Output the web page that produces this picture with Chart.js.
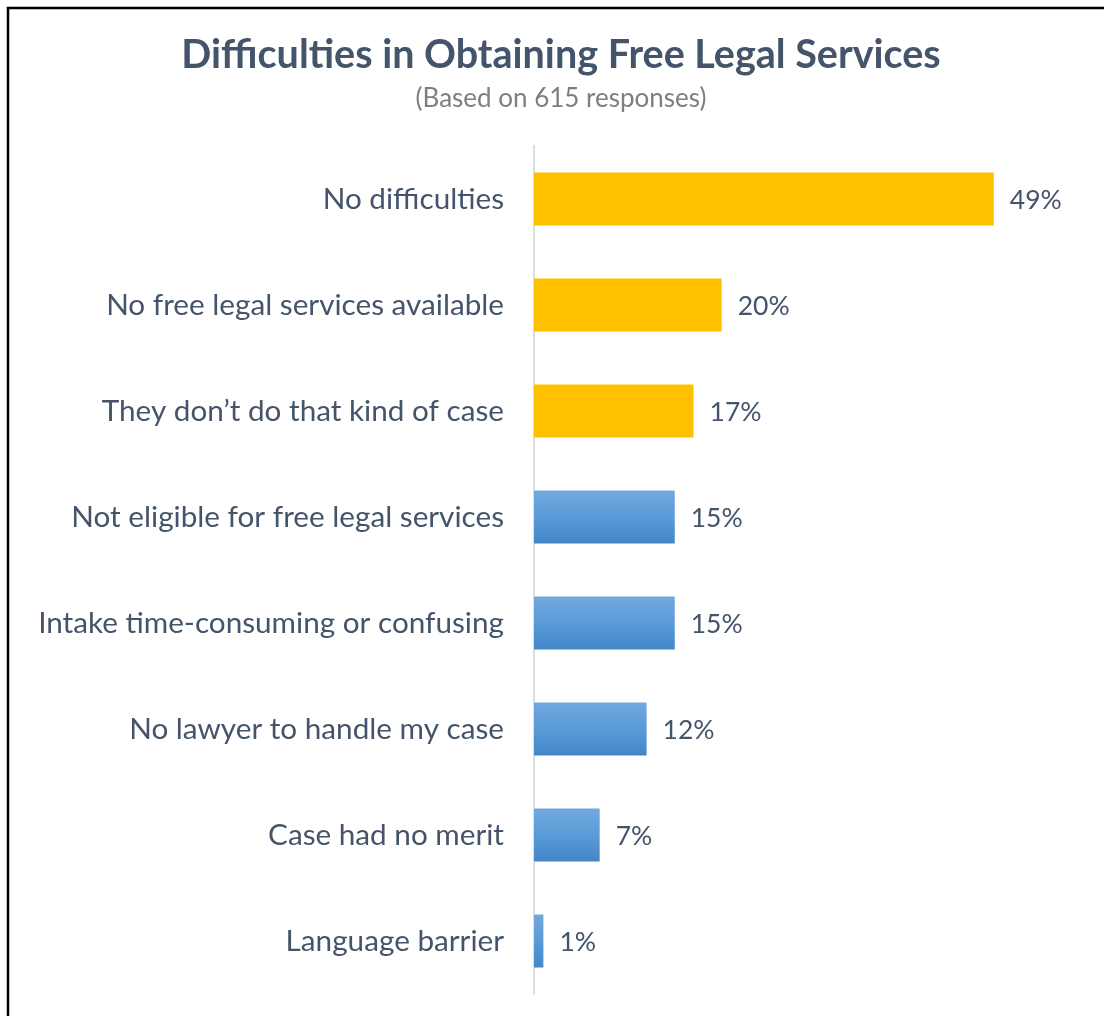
<!DOCTYPE html>
<html>
<head>
<meta charset="utf-8">
<title>Difficulties in Obtaining Free Legal Services</title>
<script src="https://cdn.jsdelivr.net/npm/chart.js@4/dist/chart.umd.min.js"></script>
<style>
  html, body { margin: 0; padding: 0; background: #ffffff; }
  #wrap { position: relative; width: 1104px; height: 1016px; }
  canvas { display: block; }
</style>
</head>
<body>
<div id="wrap"><canvas id="chart" width="1104" height="1016"></canvas></div>
<script>
// Survey answers and their share of responses (%)
const categories = [
  'No difficulties',
  'No free legal services available',
  'They don\u2019t do that kind of case',
  'Not eligible for free legal services',
  'Intake time-consuming or confusing',
  'No lawyer to handle my case',
  'Case had no merit',
  'Language barrier'
];
const percentages = [49, 20, 17, 15, 15, 12, 7, 1];
// The first three answers are highlighted in gold, the rest in blue
const highlighted = [true, true, true, false, false, false, false, false];

const titleText = 'Difficulties in Obtaining Free Legal Services';
const subtitleText = '(Based on 615 responses)';

const FONT = 'Lato, Carlito, Calibri, "Open Sans", sans-serif';
const TEXT_COLOR = '#44546a';

// Vertical blue gradient for each non-highlighted bar
function barColor(ctx) {
  if (highlighted[ctx.dataIndex]) return '#ffc000';
  const chart = ctx.chart;
  const yScale = chart.scales && chart.scales.y;
  if (!chart.chartArea || !yScale) return '#5b9bd5';
  const center = yScale.getPixelForValue(ctx.dataIndex);
  const step = Math.abs(yScale.getPixelForValue(1) - yScale.getPixelForValue(0));
  const h = step * 0.25;
  const g = chart.ctx.createLinearGradient(0, center - h, 0, center + h);
  g.addColorStop(0, '#72a8de');
  g.addColorStop(0.5, '#5a9bd9');
  g.addColorStop(1, '#4386c6');
  return g;
}

// Frame lines, title and subtitle
const framePlugin = {
  id: 'frame',
  beforeDraw(chart) {
    const c = chart.ctx;
    c.save();
    c.strokeStyle = '#000000';
    c.lineWidth = 2.5;
    c.beginPath();
    c.moveTo(8, chart.height + 2);
    c.lineTo(8, 8);
    c.lineTo(chart.width + 2, 8);
    c.stroke();
    c.restore();
  },
  afterDraw(chart) {
    const c = chart.ctx;
    c.save();
    c.textAlign = 'center';
    c.textBaseline = 'alphabetic';
    c.fillStyle = TEXT_COLOR;
    c.font = 'bold 39.5px ' + FONT;
    c.fillText(titleText, 561, 68);
    c.fillStyle = '#7f7f7f';
    c.font = '26px ' + FONT;
    c.fillText(subtitleText, 561, 107);
    c.restore();
  }
};

// Percentage label to the right of each bar
const valueLabels = {
  id: 'valueLabels',
  afterDatasetsDraw(chart) {
    const c = chart.ctx;
    const meta = chart.getDatasetMeta(0);
    c.save();
    c.fillStyle = TEXT_COLOR;
    c.font = '26.5px ' + FONT;
    c.textAlign = 'left';
    c.textBaseline = 'middle';
    meta.data.forEach((bar, i) => {
      c.fillText(percentages[i] + '%', bar.x + 16, bar.y + 1);
    });
    c.restore();
  }
};

new Chart(document.getElementById('chart'), {
  type: 'bar',
  data: {
    labels: categories,
    datasets: [{
      data: percentages,
      backgroundColor: barColor,
      borderWidth: 0,
      categoryPercentage: 1,
      barPercentage: 0.5
    }]
  },
  options: {
    indexAxis: 'y',
    responsive: false,
    animation: false,
    layout: { padding: { top: 146, bottom: 22, left: 0, right: 7 } },
    plugins: {
      legend: { display: false },
      tooltip: { enabled: false },
      title: { display: false }
    },
    scales: {
      x: {
        display: false,
        min: 0,
        max: 60
      },
      y: {
        afterFit(scale) {
          scale.width = 534;
          scale.paddingTop = 0;
          scale.paddingBottom = 0;
        },
        grid: { display: false, drawTicks: false },
        border: { display: true, color: '#d9dde4', width: 2 },
        ticks: {
          padding: 30,
          color: TEXT_COLOR,
          font: { family: FONT, size: 29.7 }
        }
      }
    }
  },
  plugins: [framePlugin, valueLabels]
});
</script>
</body>
</html>
